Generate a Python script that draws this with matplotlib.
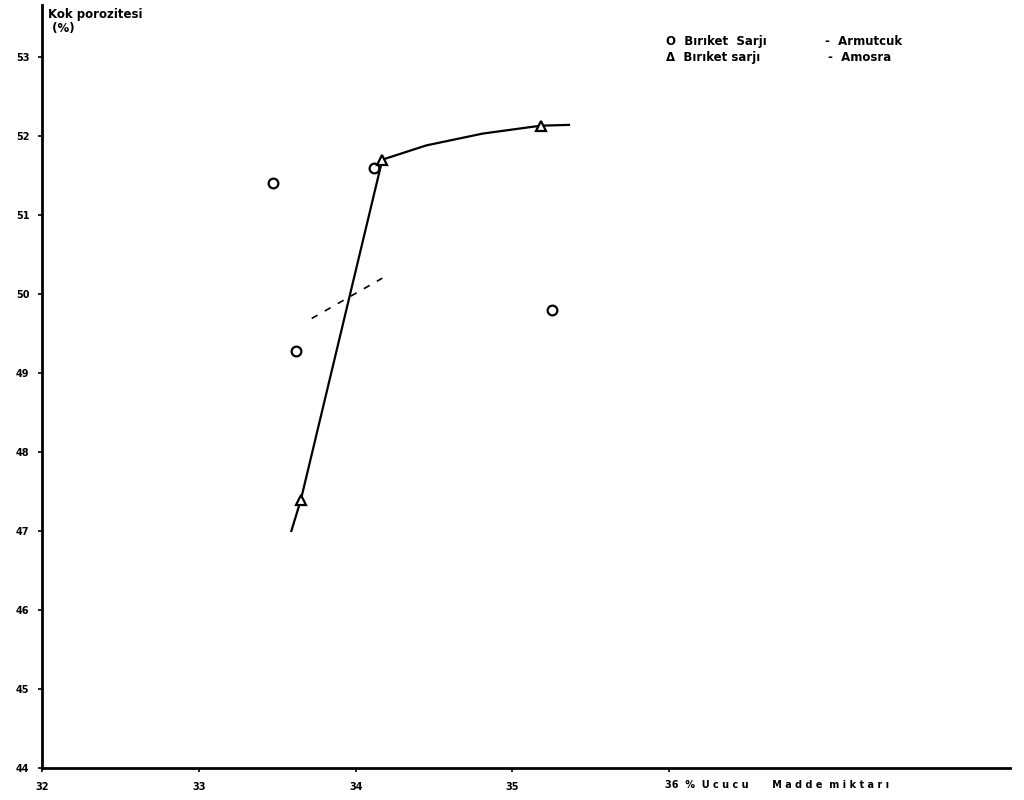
import matplotlib.pyplot as plt

# -----------------------------
# Data
# -----------------------------
armutcuk_x = [33.47, 34.12, 33.62, 35.25]   # circles
armutcuk_y = [51.4, 51.6, 49.28, 49.8]

amasra_x = [33.65, 34.17, 35.18]            # triangles
amasra_y = [47.39, 51.70, 52.13]

# hand-drawn curve through the triangles
curve_x = [33.59, 33.65, 34.17, 34.45, 34.81, 35.18, 35.36]
curve_y = [47.0, 47.39, 51.70, 51.88, 52.03, 52.13, 52.14]

# short dashed line
dash_x = [33.72, 34.17]
dash_y = [49.69, 50.2]

xticks = [32, 33, 34, 35, 36]
xtick_labels = ["32", "33", "34", "35", ""]
yticks = [44, 45, 46, 47, 48, 49, 50, 51, 52, 53]

# -----------------------------
# Plot
# -----------------------------
fig = plt.figure(figsize=(10.24, 8), dpi=100)
ax = fig.add_axes([0.041, 0.04, 0.945, 0.954])

ax.plot(curve_x, curve_y, color="black", lw=1.6)
ax.plot(dash_x, dash_y, color="black", lw=1.2, linestyle=(0, (4, 5)))
ax.plot(armutcuk_x, armutcuk_y, "o", mfc="white", mec="black", ms=7, mew=1.6)
ax.plot(amasra_x, amasra_y, "^", mfc="white", mec="black", ms=7, mew=1.6)

ax.set_xlim(32, 38.17)
ax.set_ylim(44, 53.66)

ax.set_xticks(xticks)
ax.set_xticklabels(xtick_labels, fontsize=7, fontweight="bold")
ax.set_yticks(yticks)
ax.set_yticklabels([str(v) for v in yticks], fontsize=7, fontweight="bold")
ax.tick_params(axis="x", direction="out", length=3, width=1.2, pad=7)
ax.tick_params(axis="y", direction="out", length=3, width=1.2, pad=6)

for side in ["top", "right"]:
    ax.spines[side].set_visible(False)
for side in ["left", "bottom"]:
    ax.spines[side].set_linewidth(2)

# axis titles, placed like in the original
ax.text(35.97, 43.78, "36  %  U c u c u       M a d d e  m i k t a r ı",
        fontsize=7, fontweight="bold", ha="left", va="center", clip_on=False)
ax.text(0.006, 0.996, "Kok porozitesi\n (%)", fontsize=8.5, fontweight="bold",
        ha="left", va="top", transform=ax.transAxes, linespacing=1.1)

# legend written as text
ax.text(35.98, 53.19, "O  Bırıket  Sarjı", fontsize=8.5, fontweight="bold",
        ha="left", va="center")
ax.text(36.99, 53.19, "-  Armutcuk", fontsize=8.5, fontweight="bold",
        ha="left", va="center")
ax.text(35.98, 52.99, "Δ  Bırıket sarjı", fontsize=8.5, fontweight="bold",
        ha="left", va="center")
ax.text(37.01, 52.99, "-  Amosra", fontsize=8.5, fontweight="bold",
        ha="left", va="center")

plt.savefig("out.png", dpi=100)
